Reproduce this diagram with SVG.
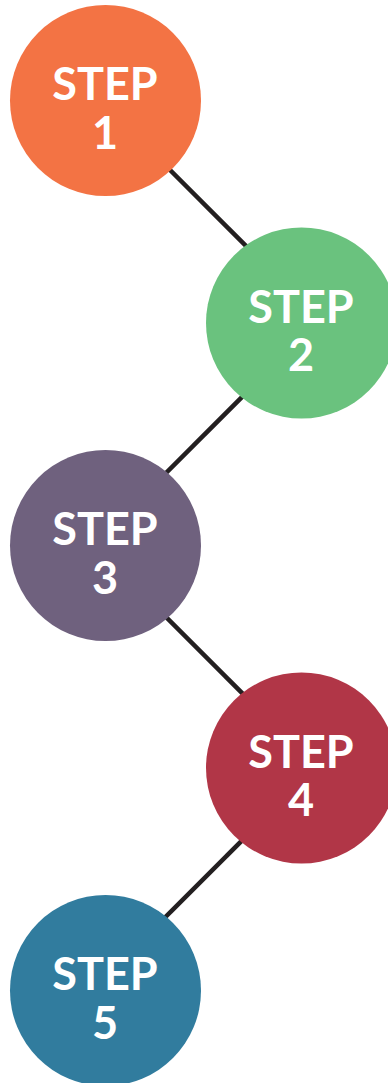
<svg xmlns="http://www.w3.org/2000/svg" width="388" height="1083" viewBox="0 0 388 1083">
  <style>
    .conn { stroke: #231f20; stroke-width: 4.5; fill: none; }
    .lbl { font-family: Lato, "Liberation Sans", sans-serif; font-weight: 700; font-size: 45px; fill: #ffffff; text-anchor: middle; }
  </style>
  <rect width="388" height="1083" fill="#ffffff"/>
  <g id="connectors">
    <line class="conn" x1="100" y1="100" x2="300" y2="300"/>
    <line class="conn" x1="300" y1="339" x2="100" y2="539"/>
    <line class="conn" x1="100" y1="551" x2="300" y2="751"/>
    <line class="conn" x1="300" y1="782.5" x2="100" y2="982.5"/>
  </g>
  <g id="step1">
    <circle cx="105.5" cy="100.5" r="95.5" fill="#f37344"/>
    <text class="lbl" x="105" y="100">STEP<tspan x="105" dy="48.5">1</tspan></text>
  </g>
  <g id="step2">
    <circle cx="301.5" cy="323" r="95.5" fill="#6ac27e"/>
    <text class="lbl" x="301" y="322.5">STEP<tspan x="301" dy="48.5">2</tspan></text>
  </g>
  <g id="step3">
    <circle cx="105.5" cy="545.5" r="95.5" fill="#6f617e"/>
    <text class="lbl" x="105" y="545">STEP<tspan x="105" dy="48.5">3</tspan></text>
  </g>
  <g id="step4">
    <circle cx="301.5" cy="768" r="95.5" fill="#b13647"/>
    <text class="lbl" x="301" y="767.5">STEP<tspan x="301" dy="48.5">4</tspan></text>
  </g>
  <g id="step5">
    <circle cx="105.5" cy="990.5" r="95.5" fill="#317c9e"/>
    <text class="lbl" x="105" y="990">STEP<tspan x="105" dy="48.5">5</tspan></text>
  </g>
</svg>
